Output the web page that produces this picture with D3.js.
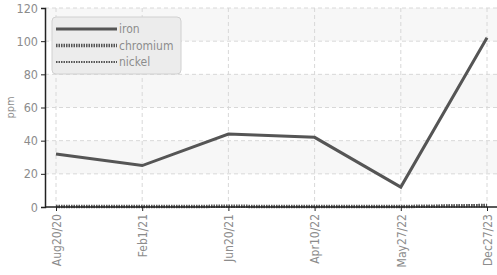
<!DOCTYPE html>
<html>
<head>
<meta charset="utf-8">
<script src="https://cdn.jsdelivr.net/npm/d3@7"></script>
<style>
  body { margin: 0; background: #fff; }
  text { font-family: 'DejaVu Sans Condensed', 'Roboto', sans-serif; }
</style>
</head>
<body>
<svg id="chart" width="497" height="275"></svg>
<script>
// chart data
const dates = ['Aug20/20', 'Feb1/21', 'Jun20/21', 'Apr10/22', 'May27/22', 'Dec27/23'];
const iron = [32, 25, 44, 42, 12, 102];
const chromium = [0.3, 0.3, 0.4, 0.3, 0.3, 0.8];
const nickel = [0.2, 0.2, 0.2, 0.2, 0.2, 1.4];
const yTicks = [0, 20, 40, 60, 80, 100, 120];

const seriesList = [
  { name: 'iron', values: iron, width: 3, dash: null },
  { name: 'chromium', values: chromium, width: 3.5, dash: '1.5,1' },
  { name: 'nickel', values: nickel, width: 2, dash: '1.5,1' }
];

const margin = { top: 8, right: 0, bottom: 68, left: 45 };
const width = 497, height = 275;
const plotW = width - margin.left - margin.right;
const plotH = height - margin.top - margin.bottom;
const textColor = '#8c8c8c';

const svg = d3.select('#chart');
const g = svg.append('g').attr('transform', `translate(${margin.left},${margin.top})`);

const x = d3.scalePoint().domain(dates).range([11, plotW - 10]);
const y = d3.scaleLinear().domain([0, 120]).range([plotH, 0]);

// alternating bands
g.selectAll('rect.band')
  .data(yTicks.slice(0, -1).filter((d, i) => i % 2 === 1))
  .join('rect')
  .attr('class', 'band')
  .attr('x', 0)
  .attr('width', plotW)
  .attr('y', d => y(d + 20))
  .attr('height', d => y(d) - y(d + 20))
  .attr('fill', '#f7f7f7');

// grid
g.selectAll('line.hgrid')
  .data(yTicks.slice(1))
  .join('line')
  .attr('class', 'hgrid')
  .attr('x1', 0).attr('x2', plotW)
  .attr('y1', d => y(d)).attr('y2', d => y(d))
  .attr('stroke', '#d8d8d8')
  .attr('stroke-dasharray', '4,3');

g.selectAll('line.vgrid')
  .data(dates)
  .join('line')
  .attr('class', 'vgrid')
  .attr('x1', d => x(d)).attr('x2', d => x(d))
  .attr('y1', 0).attr('y2', plotH)
  .attr('stroke', '#d8d8d8')
  .attr('stroke-dasharray', '4,3');

// lines
const line = d3.line()
  .x((d, i) => x(dates[i]))
  .y(d => y(d));

seriesList.slice().reverse().forEach(s => {
  g.append('path')
    .datum(s.values)
    .attr('d', line)
    .attr('fill', 'none')
    .attr('stroke', '#555')
    .attr('stroke-width', s.width)
    .attr('stroke-dasharray', s.dash);
});

// axes
const yAxis = g.append('g').call(d3.axisLeft(y).tickValues(yTicks).tickSize(4).tickPadding(3));
yAxis.select('.domain').attr('stroke', '#222').attr('stroke-width', 1.5);
yAxis.selectAll('.tick line').attr('stroke', '#222');
yAxis.selectAll('text').attr('fill', textColor).attr('font-size', 12.5);

const xAxis = g.append('g')
  .attr('transform', `translate(0,${plotH})`)
  .call(d3.axisBottom(x).tickSize(4).tickSizeOuter(0));
xAxis.select('.domain').attr('d', `M0,0H${plotW}`).attr('stroke', '#222').attr('stroke-width', 1.5);
xAxis.selectAll('.tick line').attr('stroke', '#222');
xAxis.selectAll('text')
  .attr('fill', textColor)
  .attr('font-size', 12)
  .attr('text-anchor', 'end')
  .attr('transform', 'rotate(-90)')
  .attr('x', -7)
  .attr('y', 0)
  .attr('dy', '0.35em');

svg.append('text')
  .attr('transform', `translate(14,${margin.top + plotH / 2}) rotate(-90)`)
  .attr('text-anchor', 'middle')
  .attr('fill', textColor)
  .attr('font-size', 11)
  .text('ppm');

// legend
const legend = svg.append('g').attr('transform', 'translate(52,17)');
legend.append('rect')
  .attr('width', 129).attr('height', 57)
  .attr('rx', 4)
  .attr('fill', '#ececec')
  .attr('stroke', '#d0d0d0');

seriesList.forEach((s, i) => {
  const row = legend.append('g').attr('transform', `translate(4,${12 + i * 16.5})`);
  row.append('line')
    .attr('x1', 0).attr('x2', 61)
    .attr('stroke', '#555')
    .attr('stroke-width', s.width)
    .attr('stroke-dasharray', s.dash);
  row.append('text')
    .attr('x', 63).attr('dy', '0.35em')
    .attr('fill', textColor)
    .attr('font-size', 12)
    .text(s.name);
});
</script>
</body>
</html>
